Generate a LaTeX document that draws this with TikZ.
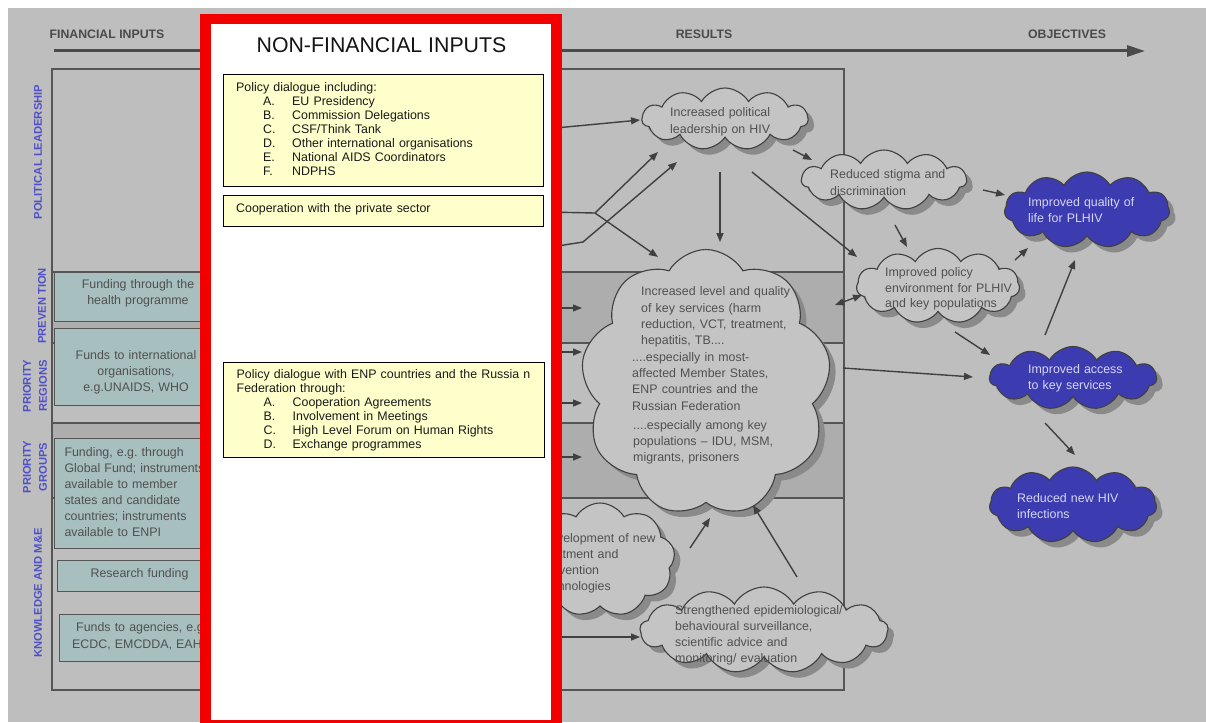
\documentclass[tikz,border=0pt]{standalone}
\usepackage{fontspec}
\setmainfont{Liberation Sans}
\usetikzlibrary{shapes.symbols,shadows,arrows.meta,calc}
\definecolor{bgc}{HTML}{BEBEBE}
\definecolor{bandc}{HTML}{ADADAD}
\definecolor{framec}{HTML}{555555}
\definecolor{tealc}{HTML}{A7BFBF}
\definecolor{txtc}{HTML}{505050}
\definecolor{hdrc}{HTML}{4A4A4A}
\definecolor{cloudc}{HTML}{C4C4C4}
\definecolor{shadc}{HTML}{8A8A8A}
\definecolor{bluec}{HTML}{3C3CB0}
\definecolor{bluetxt}{HTML}{D5D5F5}
\definecolor{labc}{HTML}{5050C8}
\definecolor{arrc}{HTML}{404040}
\definecolor{redc}{HTML}{F20000}
\definecolor{yelc}{HTML}{FFFFCC}
\newcommand\fz{\fontsize{12.4}{16}\selectfont}
\newcommand\fy{\fontsize{12.4}{14}\selectfont}
\newcommand\itm[2]{\hspace*{27pt}\makebox[29pt][l]{#1}#2}
\tikzset{
  gcloud/.style={cloud, cloud puffs=11, cloud puff arc=120, cloud ignores aspect,
    draw=arrc, line width=1.1pt, fill=cloudc, inner sep=0pt,
    copy shadow={shadow xshift=6pt, shadow yshift=-6pt, fill=shadc, draw=none}},
  bcloud/.style={gcloud, fill=bluec, draw=black!75},
  ctext/.style={font=\fz, text=txtc, align=left, inner sep=0pt, text width=220pt, anchor=base west},
  ltext/.style={font=\fz, text=txtc, align=center, inner sep=0pt, text width=160pt, anchor=base},
  btext/.style={ctext, text=bluetxt},
  tealbox/.style={draw=framec, line width=1.4pt, fill=tealc, anchor=north west, inner sep=0pt},
  ybox/.style={draw=black, line width=1.4pt, fill=yelc, anchor=north west, inner sep=0pt},
  ytext/.style={font=\fy, text=black!90, align=left, inner sep=0pt, text width=310pt, anchor=base west},
  rowlab/.style={font=\fontsize{11.2}{16}\selectfont\bfseries, text=labc, rotate=90, align=center, inner sep=0pt},
  hdr/.style={font=\fontsize{12.3}{14}\selectfont\bfseries, text=hdrc, anchor=base, inner sep=0pt},
  arr/.style={draw=arrc, line width=1.4pt, -{Triangle[length=9pt,width=7pt]}},
  plain/.style={draw=arrc, line width=1.4pt}
}
\begin{document}
\begin{tikzpicture}[x=1pt,y=-1pt]
\useasboundingbox (0,0) rectangle (1206,722);
\fill[white] (0,0) rectangle (1206,722);
\fill[bgc] (8,8) rectangle (1206,722);
% bands
\fill[bandc] (52,272) rectangle (844,343);
\fill[bandc] (52,423) rectangle (844,498);
\draw[framec, line width=1.2pt] (52,272) -- (844,272) (52,343) -- (844,343) (52,423) -- (844,423) (52,498) -- (844,498);
\draw[framec, line width=1.5pt] (52,69) rectangle (844,690);
% header
\coordinate (hs) at (54,51);
\coordinate (he) at (1145,51);
\draw[line width=3pt, draw=hdrc, -{Triangle[length=18pt,width=11pt]}] (hs) -- (he);
\node[hdr] (hfin) at (107,38.3) {FINANCIAL INPUTS};
\node[hdr] (hres) at (704,39) {RESULTS};
\node[hdr] (hobj) at (1067,39) {OBJECTIVES};
% row labels
\node[rowlab] (lpol) at (38,152) {POLITICAL LEADERSHIP};
\node[rowlab] (lprev) at (42,306) {PREVEN TION};
\node[rowlab] (lreg) at (35,386) {PRIORITY\\REGIONS};
\node[rowlab] (lgrp) at (35,467) {PRIORITY\\GROUPS};
\node[rowlab] (lkn) at (38,593) {KNOWLEDGE AND M\&E};
% left financial boxes
\node[tealbox, minimum width=220pt, minimum height=49pt] (f1) at (54,272) {};
\node[tealbox, minimum width=220pt, minimum height=77pt] (f2) at (54,328) {};
\node[tealbox, minimum width=220pt, minimum height=110pt] (f3) at (54,438) {};
\node[tealbox, minimum width=220pt, minimum height=31pt] (f4) at (57,560) {};
\node[tealbox, minimum width=220pt, minimum height=47pt] (f5) at (59,614) {};
\node[ltext] (f1t) at (138,288.3) {Funding through the\\health programme};
\node[ltext] (f2t) at (136,359.3) {Funds to international\\organisations,\\e.g.UNAIDS, WHO};
\node[ctext] (f3t) at (64.3,456) {Funding, e.g.\ through\\Global Fund; instruments\\available to member\\states and candidate\\countries; instruments\\available to ENPI};
\node[ltext] (f4t) at (139.5,577.3) {Research funding};
\node[ctext, font=\fontsize{12.4}{16.7}\selectfont] (f5t) at (76,631.7) {Funds to agencies, e.g\\\hspace*{-4pt}ECDC, EMCDDA, EAH};
% clouds
\node[gcloud, minimum width=166pt, minimum height=62pt] (lead) at (725,119) {};
\node[gcloud, minimum width=165pt, minimum height=60pt] (stigma) at (884,180) {};
\node[bcloud, minimum width=165pt, minimum height=76pt] (quality) at (1087,210) {};
\node[gcloud, minimum width=163pt, minimum height=75pt] (policy) at (938,286) {};
\node[bcloud, minimum width=167pt, minimum height=63pt] (access) at (1073,378) {};
\node[bcloud, minimum width=167pt, minimum height=76pt] (newhiv) at (1073,505) {};
\node[gcloud, cloud puffs=9, minimum width=250pt, minimum height=267pt] (big) at (706,383) {};
\node[gcloud, cloud puffs=9, minimum width=150pt, minimum height=114pt] (dev) at (600,560) {};
\node[gcloud, cloud puffs=13, minimum width=248pt, minimum height=86pt] (epi) at (764,630) {};
% cloud texts
\node[ctext, font=\fontsize{12.4}{16.7}\selectfont] (leadT) at (670,116.7) {Increased political\\leadership on HIV};
\node[ctext, font=\fontsize{12.4}{16.7}\selectfont] (stigmaT) at (830,178.3) {Reduced stigma and\\discrimination};
\node[btext] (qualityT) at (1028,206.7) {Improved quality of\\life for PLHIV};
\node[ctext, font=\fontsize{12.4}{15.4}\selectfont] (policyT) at (885,276.7) {Improved policy\\environment for PLHIV\\and key populations};
\node[btext] (accessT) at (1028,373.3) {Improved access\\to key services};
\node[btext] (newhivT) at (1017,502.7) {Reduced new HIV\\infections};
\node[ctext, font=\fontsize{12.4}{16.4}\selectfont] (bigT1) at (641,295.7) {Increased level and quality\\of key services (harm\\reduction, VCT, treatment,\\hepatitis, TB....};
\node[ctext, font=\fontsize{12.4}{16.1}\selectfont] (bigT2) at (632,361.7) {....especially in most-\\affected Member States,\\ENP countries and the\\Russian Federation};
\node[ctext, font=\fontsize{12.4}{16.4}\selectfont] (bigT3) at (633,429) {....especially among key\\populations -- IDU, MSM,\\migrants, prisoners};
\node[ctext, font=\fontsize{12.4}{15.9}\selectfont] (devT) at (541,542.3) {Development of new\\treatment and\\prevention\\technologies};
\node[ctext, font=\fontsize{12.4}{16.1}\selectfont] (epiT) at (675,614) {Strengthened epidemiological/\\behavioural surveillance,\\scientific advice and\\monitoring/ evaluation};
% connectors
\coordinate (h1) at (545,129);
\coordinate (h2) at (545,212);
\coordinate (k1) at (595,213);
\coordinate (h3) at (545,248);
\coordinate (k2) at (583,242);
\coordinate (h4) at (545,308);
\coordinate (h5) at (545,352);
\coordinate (h6) at (545,403);
\coordinate (h7) at (545,457);
\coordinate (h8) at (545,637);
\draw[arr] (h1) -- ($(lead)+(-85,1)$);
\draw[plain] (h2) -- (k1);
\draw[arr] (k1) -- ($(lead)+(-67,33)$);
\draw[arr] (k1) -- ($(big)+(-48,-126)$);
\draw[arr] (h3) -- (k2) -- ($(lead)+(-48,43)$);
\draw[arr] ($(lead)+(-5,53)$) -- ($(big)+(14,-141)$);
\draw[arr] ($(lead)+(27,53)$) -- ($(policy)+(-81,-29)$);
\draw[arr] ($(lead)+(68,31)$) -- ($(stigma)+(-72,-20)$);
\draw[arr] ($(stigma)+(99,10)$) -- ($(quality)+(-82,-15)$);
\draw[arr] ($(stigma)+(11,45)$) -- ($(policy)+(-31,-39)$);
\draw[arr] ($(policy)+(77,-26)$) -- ($(quality)+(-59,38)$);
\draw[arr] ($(access)+(-28,-43)$) -- ($(quality)+(-12,50)$);
\draw[arr] ($(policy)+(17,46)$) -- ($(access)+(-83,-23)$);
\draw[arr] ($(big)+(137,-15)$) -- ($(access)+(-100,-1)$);
\draw[arr] ($(access)+(-28,45)$) -- ($(newhiv)+(2,-50)$);
\draw[arr, {Triangle[length=9pt,width=7pt]}-{Triangle[length=9pt,width=7pt]}] ($(big)+(129,-78)$) -- ($(policy)+(-76,9)$);
\draw[arr] (h4) -- ($(big)+(-124,-75)$);
\draw[arr] (h5) -- ($(big)+(-124,-31)$);
\draw[arr] (h6) -- ($(big)+(-124,20)$);
\draw[arr] (h7) -- ($(big)+(-124,74)$);
\draw[arr] ($(dev)+(90,-12)$) -- ($(big)+(4,135)$);
\draw[arr] ($(epi)+(33,-53)$) -- ($(big)+(47,122)$);
\draw[arr] (h8) -- ($(epi)+(-124,7)$);
% non-financial inputs overlay
\draw[draw=redc, fill=white, line width=10.5pt] (205.5,19) rectangle (556.5,725);
\node[font=\fontsize{21.3}{24}\selectfont, text=black!92, anchor=base, inner sep=0pt] (title) at (381.5,52.7) {NON-FINANCIAL INPUTS};
\node[ybox, minimum width=320pt, minimum height=112pt] (y1) at (223,74) {};
\node[ybox, minimum width=320pt, minimum height=31pt] (y2) at (223,195) {};
\node[ybox, minimum width=321pt, minimum height=95pt] (y3) at (223,362) {};
\node[ytext] (y1t) at (236,91.7) {Policy dialogue including:\\\itm{A.}{EU Presidency}\\\itm{B.}{Commission Delegations}\\\itm{C.}{CSF/Think Tank}\\\itm{D.}{Other international organisations}\\\itm{E.}{National AIDS Coordinators}\\\itm{F.}{NDPHS}};
\node[ytext] (y2t) at (236,212.7) {Cooperation with the private sector};
\node[ytext] (y3t) at (236.5,378.3) {Policy dialogue with ENP countries and the Russia n\\Federation through:\\\itm{A.}{Cooperation Agreements}\\\itm{B.}{Involvement in Meetings}\\\itm{C.}{High Level Forum on Human Rights}\\\itm{D.}{Exchange programmes}};
\end{tikzpicture}
\end{document}
